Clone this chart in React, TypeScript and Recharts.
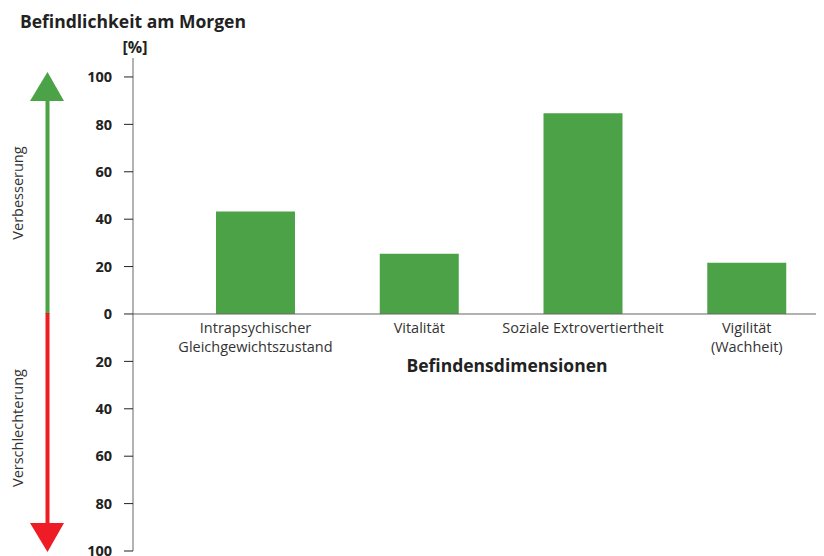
import React from "react";
import { BarChart, Bar, XAxis, YAxis, ReferenceLine, LabelList } from "recharts";

const categories = [
  "Intrapsychischer\nGleichgewichtszustand",
  "Vitalität",
  "Soziale Extrovertiertheit",
  "Vigilität\n(Wachheit)",
];
const values = [43.2, 25.4, 84.7, 21.6];
const yTicks = [-100, -80, -60, -40, -20, 0, 20, 40, 60, 80, 100];

const data = categories.map((name, i) => ({ name, value: values[i] }));

const FONT = "'Open Sans', Lato, sans-serif";
const GREEN = "#4ba247";
const RED = "#ee1c25";

// category names sit just under the zero line, below each bar
const CategoryLabel = (props: any) => {
  const { x, y, width, height, value } = props;
  const cx = x + width / 2;
  const base = y + height;
  const lines = String(value).split("\n");
  return (
    <text x={cx} y={base} textAnchor="middle" fontSize={14.5} fill="#333" fontFamily={FONT}>
      {lines.map((l, i) => (
        <tspan key={i} x={cx} dy={19}>{l}</tspan>
      ))}
    </text>
  );
};

export default function App() {
  return (
    <div style={{ position: "relative", width: 816, height: 548, overflow: "hidden", fontFamily: FONT }}>
      <BarChart width={821} height={548} data={data} margin={{ top: 50, right: 0, left: 0, bottom: 5 }}>
        <XAxis dataKey="name" hide padding={{ left: 41, right: 0 }} />
        <YAxis
          type="number"
          domain={[-100, 108]}
          ticks={yTicks}
          interval={0}
          width={125}
          tickFormatter={(v: number) => String(Math.abs(v))}
          tick={{ fontSize: 14.5, fontWeight: 700, fill: "#222", fontFamily: FONT }}
          tickSize={9}
          tickMargin={12}
          tickLine={{ stroke: "#222" }}
          axisLine={{ stroke: "#666" }}
          allowDataOverflow
        />
        <ReferenceLine y={0} stroke="#666" strokeWidth={1.2} />
        <Bar dataKey="value" fill={GREEN} barSize={79} isAnimationActive={false}>
          <LabelList dataKey="name" content={CategoryLabel} />
        </Bar>
      </BarChart>
      <svg width={816} height={548} style={{ position: "absolute", left: 0, top: 0, pointerEvents: "none" }}>
        <text x={12} y={20} fontSize={17.5} fontWeight={700} fill="#222" fontFamily={FONT}>Befindlichkeit am Morgen</text>
        <text x={127} y={45} textAnchor="middle" fontSize={16} fontWeight={700} fill="#222" fontFamily={FONT}>[%]</text>
        <text x={499} y={364} textAnchor="middle" fontSize={17.5} fontWeight={700} fill="#222" fontFamily={FONT}>Befindensdimensionen</text>
        <rect x={37.5} y={92} width={4} height={214} fill={GREEN} />
        <polygon points="22,93 56,93 39.5,64" fill={GREEN} />
        <rect x={37.5} y={305} width={4} height={212} fill={RED} />
        <polygon points="22,515 56,515 39.5,544" fill={RED} />
        <text transform="translate(15,185) rotate(-90)" textAnchor="middle" fontSize={14.5} fill="#333" fontFamily={FONT}>Verbesserung</text>
        <text transform="translate(15,420) rotate(-90)" textAnchor="middle" fontSize={14.5} fill="#333" fontFamily={FONT}>Verschlechterung</text>
      </svg>
    </div>
  );
}
